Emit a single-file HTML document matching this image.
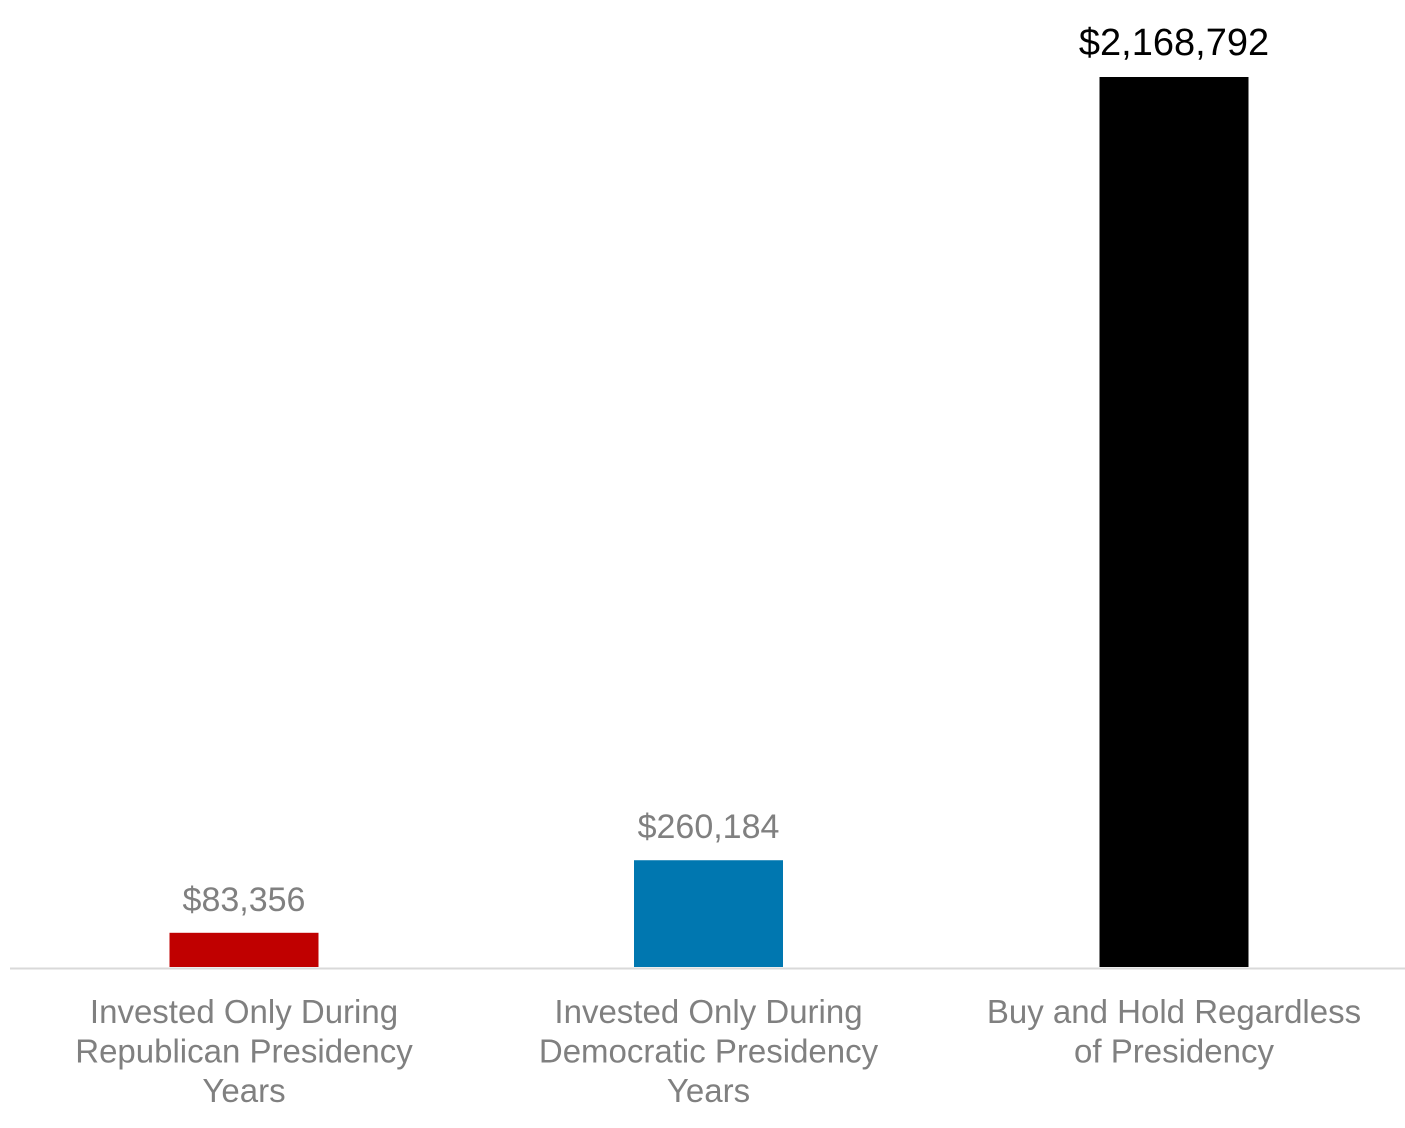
<!DOCTYPE html>
<html><head><meta charset="utf-8"><style>
body{margin:0;background:#fff;}
svg{display:block;font-family:"Liberation Sans",Arial,sans-serif;}
</style></head><body>
<svg id="chart" width="1405" height="1128" viewBox="0 0 1405 1128" xmlns="http://www.w3.org/2000/svg">
<line x1="10" y1="968.5" x2="1405" y2="968.5" stroke="#d9d9d9" stroke-width="2"/>
<g id="bars"></g>
</svg>
<script>
const categories = [
  ["Invested Only During","Republican Presidency","Years"],
  ["Invested Only During","Democratic Presidency","Years"],
  ["Buy and Hold Regardless","of Presidency"]
];
const values = [83356, 260184, 2168792];
const valueLabels = ["$83,356", "$260,184", "$2,168,792"];
const colors = ["#c00000", "#0077b0", "#000000"];
const labelColors = ["#808080", "#808080", "#000000"];

const baseY = 967, topY = 77, maxV = 2168792;
const centers = [244, 708.5, 1174];
const barW = 149;
function y(v){ return baseY - (v / maxV) * (baseY - topY); }
const NS = "http://www.w3.org/2000/svg";
const g = document.getElementById("bars");
values.forEach((v, i) => {
  const r = document.createElementNS(NS, "rect");
  
  
  r.setAttribute("x", centers[i] - barW / 2);
  r.setAttribute("y", y(v));
  r.setAttribute("width", barW);
  r.setAttribute("height", baseY - y(v));
  r.setAttribute("fill", colors[i]);
  g.appendChild(r);
  const t = document.createElementNS(NS, "text");
  
  
  t.setAttribute("x", centers[i]);
  t.setAttribute("y", y(v) - 22);
  t.setAttribute("text-anchor", "middle");
  t.setAttribute("font-size", i === 2 ? 38 : 34);
  t.setAttribute("fill", labelColors[i]);
  t.textContent = valueLabels[i];
  g.appendChild(t);
  categories[i].forEach((line, j) => {
    const c = document.createElementNS(NS, "text");
    
    
    c.setAttribute("x", centers[i]);
    c.setAttribute("y", 1023 + j * 39.5);
    c.setAttribute("text-anchor", "middle");
    c.setAttribute("font-size", 33);
    c.setAttribute("fill", "#808080");
    c.textContent = line;
    g.appendChild(c);
  });
});
</script>
</body></html>
